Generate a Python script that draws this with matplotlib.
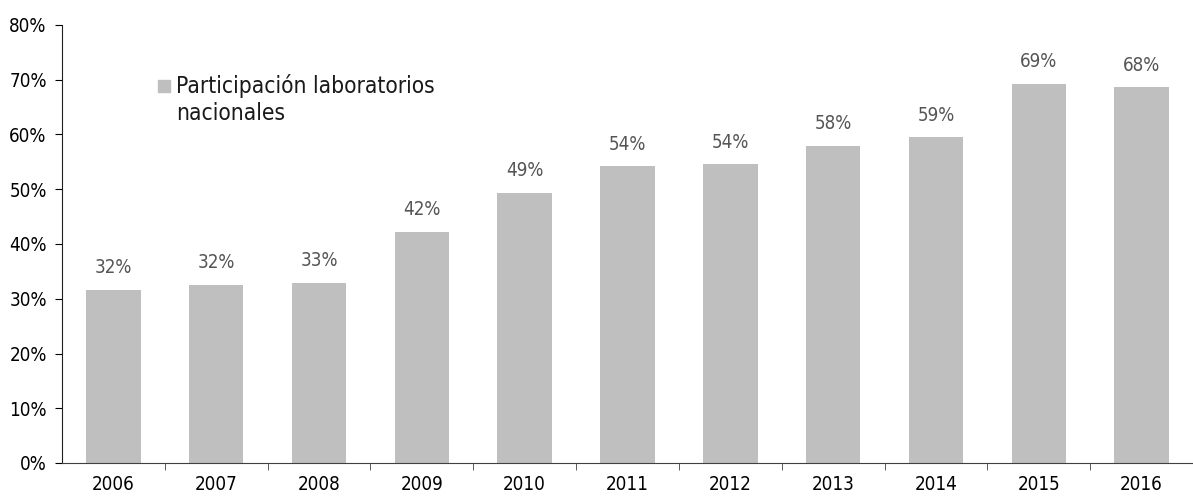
import numpy as np
import matplotlib
matplotlib.use("Agg")
import matplotlib.pyplot as plt
from matplotlib.patches import Rectangle
from matplotlib.ticker import FuncFormatter, FixedLocator

# data
years = ['2006', '2007', '2008', '2009', '2010', '2011',
         '2012', '2013', '2014', '2015', '2016']
share = [31.6, 32.6, 32.9, 42.2, 49.4, 54.2, 54.6, 57.9, 59.5, 69.3, 68.6]
share_labels = ['32%', '32%', '33%', '42%', '49%', '54%',
                '54%', '58%', '59%', '69%', '68%']
series_name = 'Participación laboratorios\nnacionales'

plt.rcParams['font.family'] = ['DejaVu Sans']
plt.rcParams['font.stretch'] = 'condensed'

W, H = 1193, 497
fig = plt.figure(figsize=(W / 100, H / 100), dpi=100)
ax = fig.add_axes([62/W, 34/H, 1131/W, 438/H])

x = np.arange(len(years))
bar_color = '#bfbfbf'
bars = ax.bar(x, share, width=0.53, color=bar_color, zorder=2)

for xi, v, lab in zip(x, share, share_labels):
    ax.annotate(lab, (xi, v), xytext=(0, 9), textcoords='offset points',
                ha='center', va='bottom', fontsize=13.5, color='#555555')

ax.set_xlim(-0.5, len(years) - 0.5)
ax.set_ylim(0, 80)
ax.set_yticks(np.arange(0, 81, 10))
ax.yaxis.set_major_formatter(FuncFormatter(lambda v, p: f'{v:.0f}%'))
ax.set_xticks(x)
ax.set_xticklabels(years)
ax.xaxis.set_minor_locator(FixedLocator(x[:-1] + 0.5))

ax.tick_params(axis='x', which='major', length=0, pad=9, labelsize=13.5)
ax.tick_params(axis='x', which='minor', length=5, direction='out',
               color='#404040')
ax.tick_params(axis='y', length=5, direction='out', labelsize=13.5, pad=6)

for s in ['top', 'right']:
    ax.spines[s].set_visible(False)
ax.spines['left'].set_color('#202020')
ax.spines['bottom'].set_color('#404040')

# legend: small square next to a two-line label
fig.patches.append(Rectangle((158 / W, 1 - 92 / H), 12 / W, 12 / H,
                             transform=fig.transFigure, color=bar_color))
fig.text(176 / W, 1 - 74 / H, series_name, ha='left', va='top',
         fontsize=16.3, color='#1a1a1a', linespacing=1.2)

fig.savefig('out.png', dpi=100)
